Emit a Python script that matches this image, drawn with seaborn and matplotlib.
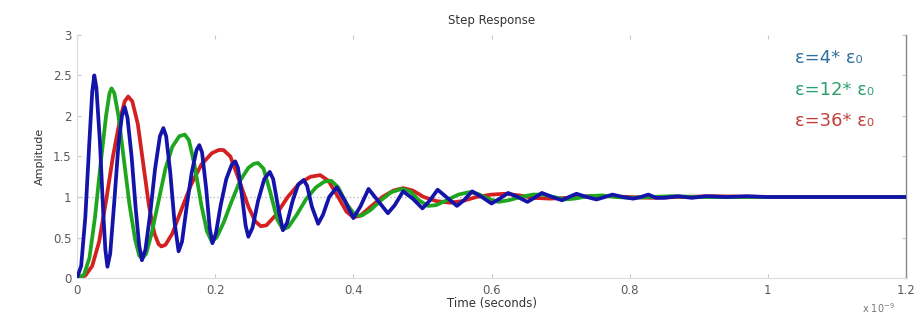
import numpy as np
import pandas as pd
import matplotlib
matplotlib.use("Agg")
import matplotlib.pyplot as plt
import seaborn as sns

# time in units of 1e-9 s, amplitude
blue_t = [0.000, 0.006, 0.012, 0.018, 0.022, 0.025, 0.028, 0.033, 0.038, 0.041,
          0.044, 0.048, 0.054, 0.060, 0.065, 0.069, 0.073, 0.079, 0.085, 0.090,
          0.094, 0.099, 0.106, 0.113, 0.120, 0.125, 0.129, 0.135, 0.141, 0.147,
          0.152, 0.159, 0.166, 0.173, 0.177, 0.181, 0.187, 0.192, 0.196, 0.201,
          0.208, 0.216, 0.224, 0.229, 0.233, 0.239, 0.244, 0.248, 0.254, 0.262,
          0.271, 0.279, 0.284, 0.291, 0.298, 0.304, 0.312, 0.320, 0.328, 0.333,
          0.340, 0.349, 0.356, 0.365, 0.376, 0.388, 0.400, 0.410, 0.422, 0.436,
          0.450, 0.460, 0.472, 0.486, 0.500, 0.510, 0.522, 0.536, 0.550, 0.560,
          0.572, 0.586, 0.600, 0.612, 0.624, 0.638, 0.652, 0.662, 0.673, 0.688,
          0.702, 0.712, 0.723, 0.738, 0.752, 0.764, 0.775, 0.790, 0.805, 0.816,
          0.827, 0.838, 0.850, 0.870, 0.890, 0.910, 0.940, 0.970, 1.000, 1.050,
          1.100, 1.200]
blue_amp = [0.00, 0.15, 0.75, 1.70, 2.30, 2.50, 2.35, 1.70, 0.80, 0.35,
            0.14, 0.30, 0.95, 1.65, 2.00, 2.11, 1.98, 1.50, 0.85, 0.40,
            0.22, 0.35, 0.80, 1.35, 1.75, 1.85, 1.75, 1.30, 0.70, 0.33,
            0.45, 0.90, 1.30, 1.58, 1.64, 1.55, 1.10, 0.62, 0.43, 0.55,
            0.90, 1.22, 1.40, 1.44, 1.36, 1.00, 0.65, 0.51, 0.62, 0.95,
            1.22, 1.31, 1.22, 0.88, 0.59, 0.68, 0.95, 1.15, 1.21, 1.14,
            0.88, 0.67, 0.78, 1.00, 1.12, 0.95, 0.74, 0.88, 1.10, 0.95,
            0.80, 0.90, 1.07, 0.98, 0.86, 0.95, 1.09, 0.99, 0.89, 0.96,
            1.07, 1.00, 0.92, 0.98, 1.05, 1.00, 0.94, 0.99, 1.05, 1.00,
            0.96, 1.00, 1.04, 1.00, 0.97, 1.00, 1.03, 1.00, 0.98, 1.00,
            1.03, 0.99, 0.99, 1.01, 0.99, 1.01, 1.00, 1.01, 1.00, 1.00,
            1.00, 1.00]

green_t = [0.000, 0.010, 0.018, 0.026, 0.034, 0.042, 0.047, 0.050, 0.054, 0.060,
           0.068, 0.076, 0.084, 0.090, 0.094, 0.100, 0.108, 0.118, 0.128, 0.138,
           0.148, 0.156, 0.162, 0.170, 0.180, 0.188, 0.195, 0.202, 0.212, 0.224,
           0.236, 0.248, 0.256, 0.262, 0.270, 0.280, 0.290, 0.298, 0.306, 0.318,
           0.332, 0.346, 0.358, 0.368, 0.378, 0.390, 0.402, 0.412, 0.425, 0.440,
           0.455, 0.470, 0.482, 0.495, 0.508, 0.520, 0.535, 0.552, 0.568, 0.580,
           0.595, 0.610, 0.625, 0.642, 0.660, 0.675, 0.690, 0.705, 0.720, 0.740,
           0.760, 0.780, 0.800, 0.830, 0.860, 0.900, 1.000, 1.200]
green_amp = [0.00, 0.04, 0.25, 0.75, 1.40, 2.00, 2.28, 2.34, 2.28, 2.00,
             1.45, 0.90, 0.48, 0.28, 0.24, 0.30, 0.55, 0.95, 1.35, 1.62,
             1.75, 1.77, 1.70, 1.40, 0.90, 0.58, 0.45, 0.50, 0.68, 0.95,
             1.20, 1.36, 1.41, 1.42, 1.35, 1.05, 0.72, 0.60, 0.63, 0.78,
             0.98, 1.12, 1.19, 1.20, 1.12, 0.92, 0.78, 0.77, 0.84, 0.96,
             1.06, 1.10, 1.07, 0.96, 0.89, 0.90, 0.96, 1.03, 1.06, 1.04,
             0.98, 0.94, 0.96, 1.00, 1.03, 1.03, 1.00, 0.97, 0.98, 1.01,
             1.02, 1.00, 0.99, 1.00, 1.01, 1.00, 1.00, 1.00]

red_t = [0.000, 0.012, 0.022, 0.032, 0.042, 0.052, 0.062, 0.069, 0.074, 0.080,
         0.088, 0.096, 0.104, 0.112, 0.118, 0.122, 0.128, 0.138, 0.150, 0.165,
         0.180, 0.195, 0.205, 0.212, 0.222, 0.235, 0.248, 0.258, 0.266, 0.274,
         0.288, 0.305, 0.322, 0.338, 0.352, 0.364, 0.378, 0.390, 0.400, 0.410,
         0.425, 0.442, 0.458, 0.472, 0.486, 0.502, 0.520, 0.540, 0.558, 0.578,
         0.600, 0.620, 0.640, 0.660, 0.685, 0.710, 0.740, 0.770, 0.800, 0.830,
         0.870, 0.920, 1.000, 1.200]
red_amp = [0.00, 0.03, 0.15, 0.45, 0.95, 1.50, 1.95, 2.18, 2.24, 2.18,
           1.90, 1.40, 0.90, 0.55, 0.42, 0.39, 0.41, 0.55, 0.82, 1.15,
           1.40, 1.54, 1.58, 1.58, 1.50, 1.20, 0.88, 0.70, 0.64, 0.65,
           0.78, 1.00, 1.17, 1.25, 1.27, 1.20, 1.00, 0.82, 0.75, 0.77,
           0.88, 1.00, 1.08, 1.11, 1.08, 1.00, 0.95, 0.93, 0.95, 1.00,
           1.03, 1.04, 1.02, 0.99, 0.98, 0.99, 1.01, 1.01, 1.00, 0.99,
           1.00, 1.01, 1.00, 1.00]

labels = ["ε=4* ε₀", "ε=12* ε₀", "ε=36* ε₀"]
line_colors = ["#1414aa", "#1fa61f", "#d42020"]
text_colors = ["#2f6f9f", "#2e9e6e", "#c0403c"]

sns.set_theme(style="white")
plt.rcParams["font.family"] = ["DejaVu Sans"]

fig = plt.figure(figsize=(9.17, 3.2), dpi=100)
ax = fig.add_axes([0.084, 0.131, 0.904, 0.760])

ax.axhline(1, color="#b8b8b8", lw=1, ls=":", zorder=1)

series = [(red_t, red_amp, line_colors[2]),
          (green_t, green_amp, line_colors[1]),
          (blue_t, blue_amp, line_colors[0])]
for t, a, c in series:
    sns.lineplot(x=t, y=a, color=c, lw=2.7, sort=False, ax=ax, zorder=3)

ax.set_xlim(0, 1.2)
ax.set_ylim(0, 3)
ax.set_xticks([0, 0.2, 0.4, 0.6, 0.8, 1, 1.2])
ax.set_xticklabels(["0", "0.2", "0.4", "0.6", "0.8", "1", "1.2"])
ax.set_yticks([0, 0.5, 1, 1.5, 2, 2.5, 3])
ax.set_yticklabels(["0", "0.5", "1", "1.5", "2", "2.5", "3"])
ax.tick_params(direction="in", length=3, width=0.8, colors="#c8c8c8",
               labelcolor="#5a5a5a", labelsize=8.5, top=True, right=True,
               bottom=True, left=True, pad=4)

for side in ["left", "bottom", "top"]:
    ax.spines[side].set_color("#dcdcdc")
    ax.spines[side].set_linewidth(0.8)
ax.spines["top"].set_visible(False)
ax.spines["right"].set_color("#8a8a8a")
ax.spines["right"].set_linewidth(1.0)

ax.set_title("Step Response", fontsize=8.5, color="#333333", pad=8)
ax.set_xlabel("Time (seconds)", fontsize=8.5, color="#333333", labelpad=0)
ax.set_ylabel("Amplitude", fontsize=8, color="#333333", labelpad=6)

fig.text(0.958, 0.022, "x 10$^{-9}$", fontsize=7, color="#777777", ha="center")

for i, (lab, col) in enumerate(zip(labels, text_colors)):
    ax.text(0.866, 0.905 - i * 0.13, lab, transform=ax.transAxes,
            fontsize=13, color=col, ha="left", va="center")

fig.savefig("out.png", dpi=100)
